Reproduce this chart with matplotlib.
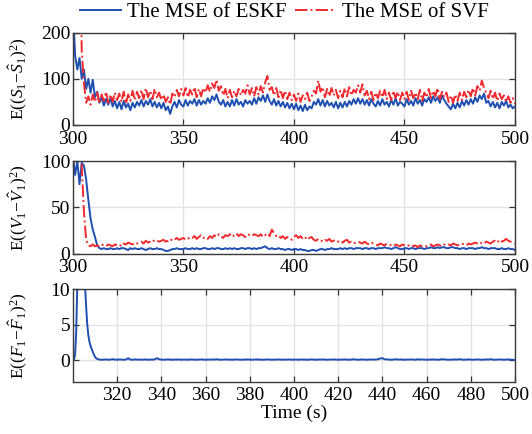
import numpy as np
import matplotlib
matplotlib.use("Agg")
import matplotlib.pyplot as plt

plt.rcParams['font.family'] = ['Liberation Serif', 'DejaVu Serif']
plt.rcParams['mathtext.fontset'] = 'custom'
plt.rcParams['mathtext.rm'] = 'Liberation Serif'
plt.rcParams['mathtext.it'] = 'Liberation Serif:italic'

# time axis, one sample per second
t = np.arange(300, 501)

# MSE of S, ESKF
eskf_s = [
    260, 150, 120, 145, 100, 120, 78, 100, 70, 98,
    60, 72, 48, 60, 42, 56, 44, 58, 40, 52,
    36, 50, 34, 52, 38, 46, 32, 48, 38, 50,
    42, 54, 40, 52, 44, 56, 40, 50, 38, 48,
    36, 48, 32, 40, 24, 40, 50, 38, 54, 44,
    40, 54, 42, 52, 46, 56, 42, 54, 44, 52,
    46, 58, 48, 62, 54, 66, 50, 44, 54, 40,
    50, 40, 54, 42, 56, 44, 50, 40, 54, 46,
    52, 44, 58, 46, 60, 52, 64, 50, 66, 52,
    44, 56, 42, 52, 40, 50, 38, 48, 36, 46,
    34, 46, 32, 42, 30, 44, 32, 40, 36, 50,
    44, 56, 42, 54, 40, 52, 42, 48, 38, 50,
    36, 48, 38, 50, 40, 52, 44, 56, 46, 58,
    46, 56, 44, 54, 42, 56, 46, 40, 52, 42,
    56, 44, 50, 40, 54, 44, 58, 42, 50, 46,
    40, 56, 44, 52, 42, 58, 46, 54, 42, 56,
    50, 60, 48, 62, 52, 60, 48, 64, 54, 46,
    40, 34, 46, 36, 48, 38, 52, 42, 54, 44,
    56, 46, 60, 50, 64, 56, 68, 48, 52, 40,
    50, 38, 48, 36, 50, 42, 52, 38, 44, 36,
    40,
]

# MSE of S, SVF
svf_s = [
    600, 600, 600, 500, 160, 90, 48, 62, 44, 66,
    50, 70, 46, 66, 52, 72, 48, 66, 50, 70,
    54, 68, 50, 72, 46, 66, 52, 74, 54, 72,
    58, 76, 56, 80, 60, 74, 56, 78, 60, 70,
    54, 66, 50, 60, 44, 68, 60, 76, 62, 78,
    64, 80, 60, 76, 66, 82, 60, 78, 62, 80,
    70, 86, 72, 90, 80, 98, 74, 84, 64, 78,
    58, 76, 60, 74, 62, 78, 64, 76, 68, 86,
    66, 80, 62, 82, 66, 84, 70, 92, 106, 76,
    82, 64, 80, 60, 76, 58, 74, 56, 70, 54,
    66, 52, 68, 50, 64, 56, 70, 52, 62, 74,
    68, 96, 72, 82, 60, 78, 62, 80, 64, 76,
    58, 74, 60, 80, 62, 82, 64, 76, 70, 86,
    70, 88, 64, 74, 56, 72, 54, 70, 58, 74,
    60, 76, 56, 70, 54, 74, 58, 72, 54, 70,
    56, 72, 54, 74, 58, 70, 56, 76, 52, 70,
    60, 78, 58, 74, 62, 80, 56, 72, 60, 70,
    50, 64, 48, 66, 52, 70, 54, 72, 60, 76,
    62, 80, 64, 84, 74, 96, 80, 70, 58, 74,
    56, 70, 52, 68, 56, 64, 50, 62, 48, 58,
    46,
]

# MSE of V, ESKF
eskf_v = [
    105, 85, 100, 75, 98, 95, 80, 58, 38, 26,
    18, 9, 6, 5, 6, 5, 5, 6, 5, 5,
    6, 5, 6, 6, 5, 4, 6, 5, 6, 5,
    5, 6, 5, 4, 5, 6, 5, 5, 6, 5,
    5, 4, 3, 3, 4, 5, 5, 6, 5, 5,
    5, 6, 5, 5, 6, 5, 6, 5, 5, 6,
    6, 5, 5, 6, 5, 6, 6, 5, 5, 6,
    5, 6, 5, 6, 5, 5, 6, 6, 5, 6,
    6, 5, 6, 5, 6, 6, 7, 8, 6, 5,
    6, 5, 5, 6, 5, 5, 4, 5, 5, 4,
    5, 5, 4, 5, 4, 4, 3, 3, 4, 4,
    3, 4, 5, 5, 4, 5, 5, 6, 5, 5,
    5, 6, 5, 6, 5, 6, 6, 5, 6, 6,
    6, 5, 6, 6, 5, 6, 6, 5, 6, 6,
    6, 7, 6, 6, 5, 6, 7, 6, 5, 5,
    6, 6, 5, 6, 6, 5, 6, 6, 6, 5,
    6, 6, 7, 6, 6, 7, 6, 7, 7, 6,
    6, 7, 7, 6, 6, 5, 6, 6, 5, 6,
    6, 6, 5, 6, 6, 7, 6, 6, 5, 6,
    6, 6, 5, 5, 6, 5, 5, 6, 5, 5,
    4,
]

# MSE of V, SVF
svf_v = [
    300, 300, 300, 300, 95, 45, 15, 9, 8, 10,
    8, 9, 8, 10, 9, 8, 10, 9, 8, 10,
    9, 10, 8, 11, 10, 12, 11, 10, 12, 11,
    12, 13, 11, 14, 12, 13, 15, 13, 14, 13,
    14, 15, 13, 14, 16, 14, 15, 17, 15, 16,
    17, 15, 16, 18, 17, 19, 16, 18, 20, 17,
    18, 16, 19, 17, 20, 18, 21, 19, 17, 20,
    19, 21, 18, 20, 22, 19, 21, 20, 18, 21,
    20, 19, 21, 20, 19, 21, 18, 20, 22, 19,
    26, 22, 19, 20, 17, 19, 16, 18, 17, 15,
    18, 20, 17, 19, 16, 18, 15, 17, 18, 15,
    14, 16, 15, 13, 15, 14, 16, 13, 14, 15,
    13, 14, 12, 14, 15, 12, 13, 11, 12, 13,
    12, 11, 13, 11, 10, 12, 11, 10, 9, 11,
    10, 9, 11, 10, 9, 8, 10, 9, 8, 10,
    9, 8, 9, 10, 8, 9, 7, 9, 8, 9,
    8, 9, 10, 8, 9, 10, 9, 8, 10, 9,
    10, 9, 11, 10, 9, 10, 11, 10, 9, 11,
    10, 11, 12, 11, 10, 12, 11, 13, 12, 11,
    13, 14, 12, 15, 13, 14, 16, 14, 13, 12,
    11,
]

# MSE of F, ESKF: half-second steps over the transient (300-311.5), then 1 s
t_f = np.concatenate([np.arange(300, 312, 0.5), np.arange(312, 501)])
eskf_f = [
    0.0, 0.1, 0.8, 4.0, 10.5, 14, 16, 17, 16, 15, 13, 10.5,
    7.5, 5.0, 3.5, 2.6, 2.0, 1.6, 1.2, 0.8, 0.5, 0.3, 0.2, 0.15,
    0.1, 0.08, 0.1, 0.12, 0.08, 0.1, 0.15, 0.1, 0.08,
    0.12, 0.1, 0.08, 0.1, 0.3, 0.1, 0.08, 0.12, 0.1, 0.1, 0.08,
    0.1, 0.12, 0.08, 0.1, 0.1, 0.12, 0.3, 0.15, 0.1, 0.08,
    0.1, 0.12, 0.1, 0.08, 0.1, 0.1, 0.12, 0.08, 0.1, 0.1,
    0.08, 0.12, 0.1, 0.1, 0.08, 0.1, 0.12, 0.1, 0.08, 0.1,
    0.1, 0.12, 0.1, 0.15, 0.1, 0.08, 0.1, 0.12, 0.1, 0.1,
    0.08, 0.1, 0.12, 0.1, 0.08, 0.1, 0.1, 0.12, 0.1, 0.08,
    0.1, 0.12, 0.1, 0.1, 0.08, 0.1, 0.12, 0.1, 0.08, 0.1,
    0.1, 0.12, 0.1, 0.08, 0.1, 0.1, 0.12, 0.08, 0.1, 0.1,
    0.08, 0.12, 0.1, 0.1, 0.08, 0.1, 0.12, 0.1, 0.08, 0.1,
    0.1, 0.12, 0.1, 0.08, 0.1, 0.1, 0.12, 0.1, 0.08, 0.1,
    0.1, 0.12, 0.1, 0.08, 0.1, 0.15, 0.1, 0.08, 0.1, 0.12,
    0.1, 0.08, 0.1, 0.12, 0.1, 0.1, 0.15, 0.25, 0.3, 0.15,
    0.12, 0.1, 0.08, 0.1, 0.15, 0.1, 0.12, 0.1, 0.08, 0.1,
    0.1, 0.12, 0.1, 0.08, 0.15, 0.1, 0.12, 0.1, 0.08, 0.1,
    0.1, 0.12, 0.1, 0.08, 0.1, 0.15, 0.12, 0.1, 0.08, 0.1,
    0.1, 0.12, 0.1, 0.15, 0.1, 0.08, 0.1, 0.12, 0.1, 0.08,
    0.1, 0.12, 0.1, 0.08, 0.1, 0.12, 0.1, 0.15, 0.1, 0.08,
    0.1, 0.12, 0.1, 0.08, 0.1, 0.12, 0.1, 0.08, 0.05,
]

blue = '#1f4fb0'
red = '#f02a2e'
fs = 14
lab_fs = 12.5
lw = 1.4

fig = plt.figure(figsize=(5.32, 4.34), dpi=100)
ax1 = fig.add_axes([0.137, 0.712, 0.831, 0.213])
ax2 = fig.add_axes([0.137, 0.4154, 0.831, 0.2136])
ax3 = fig.add_axes([0.137, 0.1205, 0.831, 0.2136])


def style(ax):
    ax.grid(True, color='#e3e3e3', linewidth=1.0)
    ax.set_axisbelow(True)
    ax.tick_params(direction='in', top=True, right=True, length=4,
                   width=0.9, color='#333333', labelsize=fs, pad=2)
    ax.tick_params(axis='x', pad=4)
    for sp in ax.spines.values():
        sp.set_color('#3a3a3a')
        sp.set_linewidth(1.0)
    ax.yaxis.set_label_coords(-0.1, 0.5)


l1, = ax1.plot(t, eskf_s, color=blue, lw=lw, label='The MSE of ESKF')
l2, = ax1.plot(t, svf_s, color=red, lw=lw, ls='-.', label='The MSE of SVF')
ax1.set_xlim(300, 500)
ax1.set_ylim(0, 200)
ax1.set_xticks([300, 350, 400, 450, 500])
ax1.set_yticks([0, 100, 200])
ax1.set_ylabel(r'E$((S_1\!-\!\hat{S}_1)^2)$', fontsize=lab_fs)
style(ax1)

ax2.plot(t, eskf_v, color=blue, lw=lw)
ax2.plot(t, svf_v, color=red, lw=lw, ls='-.')
ax2.set_xlim(300, 500)
ax2.set_ylim(0, 100)
ax2.set_xticks([300, 350, 400, 450, 500])
ax2.set_yticks([0, 50, 100])
ax2.set_ylabel(r'E$((V_1\!-\!\hat{V}_1)^2)$', fontsize=lab_fs)
style(ax2)

ax3.plot(t_f, eskf_f, color=blue, lw=lw)
ax3.set_xlim(300, 500)
ax3.set_ylim(-3, 10)
ax3.set_xticks(np.arange(320, 501, 20))
ax3.set_yticks([0, 5, 10])
ax3.set_ylabel(r'E$((F_1\!-\!\hat{F}_1)^2)$', fontsize=lab_fs)
ax3.set_xlabel('Time (s)', fontsize=fs, labelpad=0)
style(ax3)

fig.legend(handles=[l1, l2], loc='center', bbox_to_anchor=(0.534, 0.972),
           ncol=2, frameon=False, fontsize=15, handlelength=2.0,
           handletextpad=0.25, columnspacing=0.4, borderaxespad=0)

fig.savefig('out.png', dpi=100)
